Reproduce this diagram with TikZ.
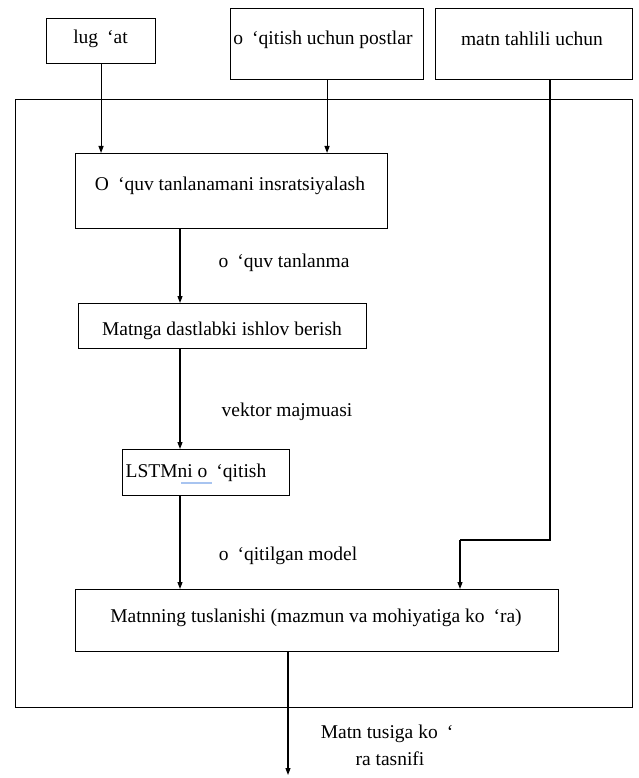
\documentclass[tikz,border=0pt]{standalone}
\usepackage{fontspec}
\setmainfont{Liberation Serif}
\newfontfamily\boxfont{Liberation Serif}
\usetikzlibrary{arrows.meta}
\begin{document}
\begin{tikzpicture}[x=1pt,y=-1pt,
  txt/.style={font=\boxfont\fontsize{19.5}{22}\selectfont, inner sep=0pt, anchor=base},
  box/.style={draw, line width=1.1pt, inner sep=0pt, anchor=north west},
  link/.style={line width=1.1pt},
  arr/.style={line width=1.1pt, -{Triangle[length=7pt,width=5pt]}}]
\useasboundingbox (0,0) rectangle (638,778);

% outer frame
\node[box, minimum width=617pt, minimum height=608pt] (frame) at (15,99) {};

% input boxes
\node[box, minimum width=109pt, minimum height=45pt] (dict) at (46,18) {};
\node[box, minimum width=193pt, minimum height=71pt] (posts) at (230,8) {};
\node[box, minimum width=197pt, minimum height=71pt] (anal) at (435,8) {};

% process boxes
\node[box, minimum width=312pt, minimum height=75pt] (sample) at (75,153) {};
\node[box, minimum width=288pt, minimum height=45pt] (prep) at (78,303) {};
\node[box, minimum width=167pt, minimum height=46pt] (lstm) at (122,449) {};
\node[box, minimum width=483pt, minimum height=62pt] (split) at (75,589) {};

% texts
\node[txt] (tdict) at (100.5,44) {lug\hspace{9pt}‘at};
\node[txt] (tposts) at (323,44.5) {o\hspace{9pt}‘qitish uchun postlar};
\node[txt] (tanal) at (532,45.5) {matn tahlili uchun};
\node[txt] (tsample) at (230,190.5) {O\hspace{9pt}‘quv tanlanamani insratsiyalash};
\node[txt] (tprep) at (222,335) {Matnga dastlabki ishlov berish};
\node[txt] (tlstm) at (196,477) {LSTMni o\hspace{9pt}‘qitish};
\node[txt] (tsplit) at (316,622) {Matnning tuslanishi (mazmun va mohiyatiga ko\hspace{9pt}‘ra)};

% edge labels
\node[txt] (l1) at (284,267.5) {o\hspace{9pt}‘quv tanlanma};
\node[txt] (l2) at (287,416.5) {vektor majmuasi};
\node[txt] (l3) at (288,560) {o\hspace{9pt}‘qitilgan model};
\node[txt] (l4) at (387,738) {Matn tusiga ko\hspace{9pt}‘};
\node[txt] (l5) at (390,765) {ra tasnifi};

% spell-check mark under the word
\draw[color={rgb,255:red,168;green,196;blue,240}, line width=1.2pt] (181,483) -- (212,483);

% connectors
\coordinate (turn1) at (550,540);
\coordinate (turn2) at (460,540);
\coordinate (out) at (288,775);
\draw[arr] (dict.south) -- (dict.south |- sample.north);
\draw[arr] (posts.south) -- (posts.south |- sample.north);
\draw[arr] (180,228) -- (180,303);
\draw[arr] (prep.south -| 180,0) -- (lstm.north -| 180,0);
\draw[arr] (lstm.south -| 180,0) -- (split.north -| 180,0);
\draw[link] (anal.south -| turn1) -- (turn1) -- (turn2);
\draw[arr] (turn2) -- (split.north -| turn2);
\draw[arr] (split.south -| out) -- (out);
\end{tikzpicture}
\end{document}
